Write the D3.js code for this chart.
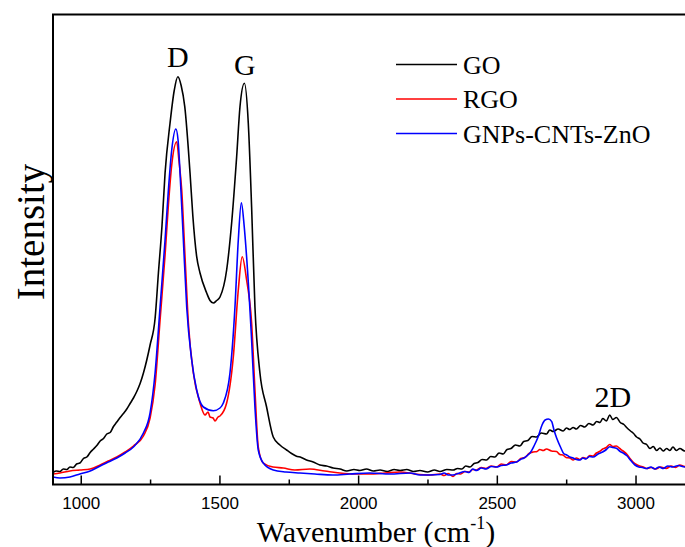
<!DOCTYPE html>
<html>
<head>
<meta charset="utf-8">
<script src="https://cdn.jsdelivr.net/npm/d3@7"></script>
<style>
  body { margin: 0; background: #fff; }
  svg { display: block; }
</style>
</head>
<body>
<div id="chart"></div>
<script>
// Raman spectra, values: [wavenumber cm-1, intensity a.u.]
var goData = [
  [900,12],[912,13.5],[925,13],[937,15.5],[950,15],[961,17.5],[973,17],[985,20.5],[997,21.5],
  [1010,26],[1022,27.5],[1034,32],[1046,35.5],[1058,39],[1070,43.5],[1082,46],[1094,50.5],
  [1106,52],[1118,58],[1130,62.5],[1142,67],[1154,71],[1166,75.5],[1178,81],[1190,86.5],
  [1202,93],[1214,101],[1226,111.5],[1250,139.5],[1268,166],[1280,211.5],[1293,259],[1304,311.5],
  [1322,361.5],[1337,394],[1350,407.8],[1362,399],[1375,377.8],[1394,311.5],[1404,269],[1418,227.8],
  [1430,211.5],[1454,191.5],[1466,184],[1478,181.5],[1490,184],[1502,187.5],[1526,214.5],[1544,261.5],
  [1562,327.5],[1574,377.5],[1590,401.2],[1604,361.5],[1616,277.5],[1628,177.5],[1646,111.5],
  [1670,77.5],[1694,47.5],[1718,39.5],[1742,34.5],[1760,31],[1776,28.5],[1795,27],[1814,24.5],
  [1838,22.5],[1862,19.5],[1886,18.5],[1910,16.5],[1935,15.5],[1959,13.5],[1985,15],[2006,14],
  [2030,15.5],[2055,13.5],[2079,14.5],[2105,13],[2130,15],[2151,14],[2175,15],[2200,13],[2223,14],
  [2250,12.5],[2275,14.5],[2295,13],[2320,15],[2343,14.5],[2358,16],[2374,15.5],[2388,18.5],
  [2403,17.5],[2418,21],[2432,22],[2447,25],[2463,24.5],[2478,28],[2493,27.5],[2508,31.5],
  [2523,30.5],[2537,35],[2551,36],[2567,39.5],[2583,38.5],[2597,43],[2612,44],[2627,48],
  [2643,47.5],[2660,51.5],[2679,50.5],[2691,54.5],[2703,53],[2721,55.5],[2739,53.5],[2751,56.5],
  [2763,55],[2775,57],[2787,55.5],[2802,59],[2817,57.5],[2832,61],[2847,59.5],[2860,63],
  [2872,62],[2882,66],[2895,63.5],[2907,69.5],[2918,65],[2931,67],[2945,62],[2958,60],[2968,57],
  [2982,53.5],[2993,51],[3004,47.5],[3016,45.5],[3027,41.5],[3040,40],[3052,36],[3064,38],
  [3076,34],[3088,36.5],[3100,33.5],[3112,36],[3124,34],[3135,37.5],[3147,34],[3160,36],
  [3177,33.5],[3190,35.5],[3202,33]
];
var rgoData = [
  [900,10.5],[925,11.5],[961,13.5],[997,14.5],[1034,15.5],[1070,19.5],[1099,23.5],[1130,27.5],
  [1160,32.5],[1190,38.5],[1226,48.5],[1250,66.5],[1268,99.5],[1286,164.5],[1304,229.5],[1316,279.5],
  [1328,319.5],[1346,342.8],[1354,324],[1364,294.5],[1376,227.5],[1388,161.5],[1406,111.5],
  [1430,81.5],[1448,69.5],[1459,72.5],[1466,67.5],[1477,66.5],[1484,63.5],[1495,67.5],[1502,68.5],
  [1526,81.5],[1550,127.5],[1568,194.5],[1582,227.8],[1598,204.5],[1616,161.5],[1628,94.5],
  [1640,37.5],[1658,21.5],[1693,17.5],[1730,16.5],[1772,14.5],[1826,15.5],[1880,13.5],[1934,11.5],
  [1988,10.5],[2042,10.5],[2097,11.5],[2151,12.5],[2205,10.5],[2259,9.5],[2295,10.5],[2310,9],
  [2325,11],[2342,8],[2355,11],[2370,10.5],[2385,13],[2400,12.5],[2413,15],[2427,14.5],[2444,17],
  [2461,16],[2480,18.5],[2499,17.5],[2516,20.5],[2533,19.5],[2552,23],[2571,22.5],[2586,26],
  [2601,27],[2616,31],[2631,32.5],[2645,33],[2655,35],[2667,34],[2679,35.5],[2697,33.5],[2715,33],
  [2727,30],[2738,29.5],[2750,27],[2763,26.5],[2775,24.5],[2787,26.5],[2799,25],[2811,27],
  [2823,26],[2835,29],[2847,28.5],[2859,31.5],[2870,33],[2882,35.5],[2895,37],[2907,40],[2918,38],
  [2931,38.5],[2943,36],[2955,33.5],[2968,30.5],[2980,26],[2991,22.5],[3003,20],[3015,18.5],
  [3028,17.5],[3040,16],[3057,17],[3073,15.5],[3090,17.5],[3111,16],[3128,18.5],[3145,17],
  [3160,19.5],[3177,18],[3202,19.5]
];
var gncData = [
  [900,7.5],[925,6.5],[961,7.5],[997,10.5],[1034,13.5],[1070,18.5],[1099,22.5],[1130,26.5],
  [1160,31.5],[1190,37.5],[1226,51.5],[1250,71.5],[1268,111.5],[1286,177.5],[1304,244.5],
  [1316,294.5],[1328,334.5],[1343,355.5],[1351,344],[1358,311.5],[1370,244.5],[1382,177.5],
  [1400,124.5],[1418,94.5],[1442,77.5],[1478,73.8],[1502,76.5],[1514,81.5],[1538,111.5],
  [1556,177.5],[1568,244.5],[1579,281.8],[1589,259],[1598,227.5],[1616,144.5],[1628,77.5],
  [1640,34.5],[1658,21.5],[1694,14.5],[1740,12.5],[1790,11.5],[1844,10.5],[1909,9.5],[1970,10.5],
  [2042,11.5],[2115,10.5],[2187,11.5],[2223,9.5],[2295,10],[2310,11.5],[2325,9.5],[2342,9.5],
  [2360,11],[2385,13],[2400,12],[2413,15.5],[2427,14],[2444,16.5],[2461,15.5],[2480,18],
  [2499,17.5],[2516,19],[2533,19.5],[2552,21.5],[2571,22.5],[2585,25],[2598,26.5],[2610,29],
  [2619,31.2],[2634,38.5],[2649,47.8],[2663,59.5],[2674,64.5],[2686,65.5],[2698,62.8],[2706,54.5],
  [2716,46.2],[2731,36.5],[2741,31],[2752,29.5],[2763,27.5],[2775,26.5],[2787,25],[2800,24.5],
  [2810,26.5],[2821,25.5],[2834,28],[2847,27.5],[2865,30.5],[2883,32.8],[2895,35],[2907,37.8],
  [2919,37],[2931,36.2],[2945,33],[2958,31],[2968,29],[2983,24],[2998,19.5],[3012,17.5],
  [3025,17],[3040,16],[3055,17.5],[3070,15.5],[3085,17.5],[3100,16],[3117,18.5],[3134,17.5],
  [3155,19],[3177,17.5],[3202,18.5]
];
var seriesNames = ["GO", "RGO", "GNPs-CNTs-ZnO"];
var seriesColors = ["#000000", "#ff0000", "#0000ff"];
var majorTicks = [1000, 1500, 2000, 2500, 3000];
var minorTicks = [1250, 1750, 2250, 2750];
var peakLabels = [["D", 1350, 418], ["G", 1592, 410], ["2D", 2918, 78]];

var W = 685, H = 547;
var pl = 53, pt = 14.5, pb = 484.5, pr = 691;

var svg = d3.select("#chart").append("svg")
    .attr("width", W).attr("height", H);

var x = d3.scaleLinear().domain([900, 3200]).range([pl, pr]);
var y = d3.scaleLinear().domain([0, 470]).range([pb, pt]);

svg.append("clipPath").attr("id", "clip")
  .append("rect").attr("x", pl).attr("y", pt)
  .attr("width", pr - pl).attr("height", pb - pt);

var line = d3.line()
    .x(d => x(d[0])).y(d => y(d[1]))
    .curve(d3.curveMonotoneX);

// draw order: black, red, blue
[goData, rgoData, gncData].forEach(function(data, i) {
  svg.append("path")
    .datum(data)
    .attr("clip-path", "url(#clip)")
    .attr("fill", "none")
    .attr("stroke", seriesColors[i])
    .attr("stroke-width", 1.6)
    .attr("stroke-linejoin", "round")
    .attr("d", line);
});

// frame
svg.append("rect")
  .attr("x", pl).attr("y", pt)
  .attr("width", pr - pl).attr("height", pb - pt)
  .attr("fill", "none").attr("stroke", "#000").attr("stroke-width", 2);

// bottom axis, ticks pointing inward
var xAxis = svg.append("g").attr("transform", "translate(0," + pb + ")")
  .call(d3.axisBottom(x).tickValues(majorTicks).tickSize(-9).tickPadding(12).tickFormat(d3.format("d")));
xAxis.select(".domain").remove();
xAxis.selectAll("line").attr("stroke-width", 1.5);
xAxis.selectAll("text")
  .attr("font-family", "'Liberation Sans', Arial, sans-serif")
  .attr("font-size", 17).attr("fill", "#000");

var xMinor = svg.append("g").attr("transform", "translate(0," + pb + ")")
  .call(d3.axisBottom(x).tickValues(minorTicks).tickSize(-5).tickFormat(""));
xMinor.select(".domain").remove();
xMinor.selectAll("line").attr("stroke-width", 1.5);

var serif = "'Liberation Serif', 'Times New Roman', serif";

// axis titles
var xt = svg.append("text")
  .attr("x", 376).attr("y", 542)
  .attr("text-anchor", "middle")
  .attr("font-family", serif).attr("font-size", 30);
xt.append("tspan").text("Wavenumber (cm");
xt.append("tspan").attr("font-size", 18).attr("dy", -13).text("-1");
xt.append("tspan").attr("dy", 13).text(")");

svg.append("text")
  .attr("transform", "translate(44,232) rotate(-90)")
  .attr("text-anchor", "middle")
  .attr("font-family", serif).attr("font-size", 39)
  .text("Intensity");

// peak labels
svg.selectAll(".peak").data(peakLabels).enter().append("text")
  .attr("class", "peak")
  .attr("x", d => x(d[1])).attr("y", d => y(d[2]))
  .attr("text-anchor", "middle")
  .attr("font-family", serif).attr("font-size", 30)
  .text(d => d[0]);

// legend
var lg = svg.append("g");
seriesNames.forEach(function(name, i) {
  var ly = 64.5 + i * 34.5;
  lg.append("line")
    .attr("x1", 396).attr("x2", 457).attr("y1", ly).attr("y2", ly)
    .attr("stroke", seriesColors[i]).attr("stroke-width", 1.6);
  lg.append("text")
    .attr("x", 463).attr("y", ly + 9)
    .attr("font-family", serif).attr("font-size", 26)
    .text(name);
});
</script>
</body>
</html>
